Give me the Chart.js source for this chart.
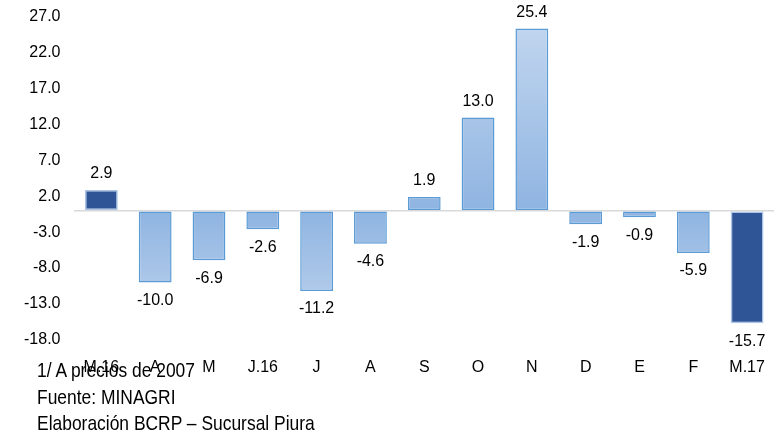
<!DOCTYPE html>
<html>
<head>
<meta charset="utf-8">
<script src="https://cdn.jsdelivr.net/npm/chart.js@4/dist/chart.umd.min.js"></script>
<style>
  html, body { margin: 0; padding: 0; background: #fff; }
  #wrap { position: relative; width: 780px; height: 431px; }
  #notes {
    position: absolute; left: 37px; top: 357px;
    font-family: "Liberation Sans", Arial, sans-serif;
    font-size: 21px; line-height: 26.5px; color: #000;
    transform: scaleX(0.83); transform-origin: 0 0;
    white-space: nowrap;
  }
</style>
</head>
<body>
<div id="wrap">
  <canvas id="chart" width="780" height="431"></canvas>
  <div id="notes">
    <div>1/ A precios de 2007</div>
    <div>Fuente: MINAGRI</div>
    <div>Elaboración BCRP – Sucursal Piura</div>
  </div>
</div>
<script>
const labels = ['M.16', 'A', 'M', 'J.16', 'J', 'A', 'S', 'O', 'N', 'D', 'E', 'F', 'M.17']
const values = [2.9, -10.0, -6.9, -2.6, -11.2, -4.6, 1.9, 13.0, 25.4, -1.9, -0.9, -5.9, -15.7]
const yTicks = [-18, -13, -8, -3, 2, 7, 12, 17, 22, 27]
const highlighted = [0, 12]

const DARK = '#2f5597'
const FONT = '"Liberation Sans", Arial, sans-serif'

// light at the ends, darker toward the zero line
function barFill(ctx) {
  const chart = ctx.chart
  const area = chart.chartArea
  if (!area) return '#9dc0e6'
  if (highlighted.includes(ctx.dataIndex)) return DARK
  const y0 = chart.scales.y.getPixelForValue(0)
  const g = chart.ctx.createLinearGradient(0, area.top, 0, area.bottom)
  const z = (y0 - area.top) / (area.bottom - area.top)
  g.addColorStop(0, '#c3d7ef')
  g.addColorStop(z, '#8fb4e1')
  g.addColorStop(1, '#c3d7ef')
  return g
}

const valueLabels = {
  id: 'valueLabels',
  afterDatasetsDraw(chart) {
    const c = chart.ctx
    const meta = chart.getDatasetMeta(0)
    c.save()
    c.font = '16px ' + FONT
    c.fillStyle = '#000'
    c.textAlign = 'center'
    c.textBaseline = 'middle'
    meta.data.forEach((bar, i) => {
      const v = values[i]
      const y = v >= 0 ? bar.y - 16 : bar.y + 18
      c.fillText(v.toFixed(1), bar.x, y)
    })
    c.restore()
  }
}

new Chart(document.getElementById('chart'), {
  type: 'bar',
  data: {
    labels,
    datasets: [{
      data: values,
      backgroundColor: barFill,
      borderColor: ctx => highlighted.includes(ctx.dataIndex) ? '#a9c4e6' : '#5b9bd5',
      borderWidth: 1.5,
      borderSkipped: false,
      categoryPercentage: 1,
      barPercentage: 0.61,
    }]
  },
  options: {
    responsive: false,
    animation: false,
    layout: { padding: { top: 0, right: 6, bottom: 44, left: 10 } },
    plugins: { legend: { display: false }, tooltip: { enabled: false } },
    scales: {
      x: {
        grid: { display: false },
        border: { display: false },
        ticks: { color: '#000', padding: 10, font: { size: 16, family: FONT }, maxRotation: 0, autoSkip: false },
      },
      y: {
        min: -18, max: 27,
        border: { display: false },
        grid: {
          color: ctx => ctx.tick && ctx.tick.value === 0 ? '#d9d9d9' : 'rgba(0,0,0,0)',
          lineWidth: 1.5,
          drawTicks: false,
        },
        ticks: {
          color: '#000',
          padding: 14,
          font: { size: 16, family: FONT },
          callback: v => v === 0 ? '' : v.toFixed(1),
        },
        afterBuildTicks: axis => {
          axis.ticks = yTicks.map(v => ({ value: v }))
          axis.ticks.push({ value: 0 })
        },
        // tick padding also pads vertically; keep the top close like the original
        afterFit: axis => { axis.paddingTop = 17 },
      }
    }
  },
  plugins: [valueLabels],
})
</script>
</body>
</html>
